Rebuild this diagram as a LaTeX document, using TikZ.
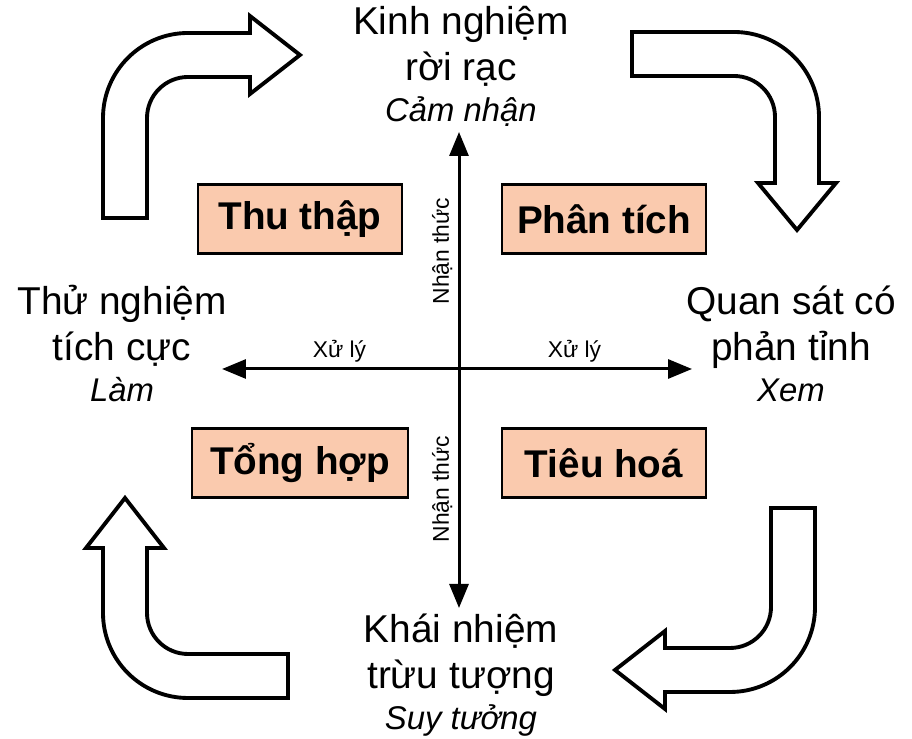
\documentclass[tikz,border=0pt]{standalone}
\usepackage{fontspec}
\setmainfont{Liberation Sans}
\usetikzlibrary{arrows.meta}
\definecolor{boxfill}{RGB}{250,202,174}
\newcommand{\howto}[1]{{\fontsize{18.7}{22}\selectfont\itshape #1}}

\begin{document}
\begin{tikzpicture}[
  x=0.02cm, y=0.02cm,
  every node/.style={align=center},
  stage/.style={rectangle, draw=black, fill=boxfill, line width=1.5pt, minimum width=4.08cm, minimum height=1.38cm, font=\fontsize{22}{26}\selectfont\bfseries},
  pole/.style={anchor=base, font=\fontsize{22.1}{26.6}\selectfont},
  axis/.style={{Triangle[length=0.48cm,width=0.38cm]}-{Triangle[length=0.48cm,width=0.38cm]}, line width=1.7pt},
  axislabel/.style={sloped, above=3pt, inner sep=0pt, font=\fontsize{13}{15}\selectfont},
  bentarrow/.style={draw=black, fill=white, line width=2.2pt}
]
\useasboundingbox (0,0) rectangle (912,739);

% Axes
\coordinate (axl) at (222,370);
\coordinate (axr) at (692,370);
\coordinate (axb) at (459,131);
\coordinate (axt) at (459,607);

\draw[axis] (axl) -- (axr)
  node[axislabel, pos=0.25] (xl1) {Xử lý}
  node[axislabel, pos=0.75] (xl2) {Xử lý};
\draw[axis] (axb) -- (axt)
  node[axislabel, pos=0.25] (nt1) {Nhận thức}
  node[axislabel, pos=0.75] (nt2) {Nhận thức};

% Four stages
\node[stage] (thu) at (300,520) {Thu thập};
\node[stage] (phan) at (604,520) {Phân tích};
\node[stage, minimum width=4.32cm] (tong) at (300,276) {Tổng hợp};
\node[stage] (tieu) at (604,276) {Tiêu hoá};

% Poles (base = last line)
\node[pole] (kinh) at (461,617) {Kinh nghiệm\\ rời rạc\\[-3.2pt] \howto{Cảm nhận}};
\node[pole] (quan) at (791,337) {Quan sát có\\ phản tỉnh\\[-3.2pt] \howto{Xem}};
\node[pole] (thu2) at (122,337) {Thử nghiệm\\ tích cực\\[-3.2pt] \howto{Làm}};
\node[pole] (khai) at (461,9) {Khái nhiệm\\ trừu tượng\\[-3.2pt] \howto{Suy tưởng}};

% Cycle arrows
\draw[bentarrow] (103,521) -- (103,621) arc[start angle=180, end angle=90, radius=85]
  -- (250,706) -- (250,723) -- (300,684) -- (250,645) -- (250,662) -- (188,662)
  arc[start angle=90, end angle=180, radius=41] -- (147,521) -- cycle;
\draw[bentarrow] (632,707) -- (734,707) arc[start angle=90, end angle=0, radius=85]
  -- (819,556) -- (836,556) -- (797,509) -- (758,556) -- (775,556) -- (775,622)
  arc[start angle=0, end angle=90, radius=41] -- (632,663) -- cycle;
\draw[bentarrow] (771,231) -- (815,231) -- (815,132) arc[start angle=0, end angle=-90, radius=85]
  -- (665,47) -- (665,30) -- (615,69) -- (665,108) -- (665,91) -- (730,91)
  arc[start angle=-90, end angle=0, radius=41] -- cycle;
\draw[bentarrow] (288,41) -- (188,41) arc[start angle=-90, end angle=-180, radius=85]
  -- (103,191) -- (86,191) -- (125,241) -- (164,191) -- (147,191) -- (147,126)
  arc[start angle=180, end angle=270, radius=41] -- (288,85) -- cycle;

\end{tikzpicture}
\end{document}
